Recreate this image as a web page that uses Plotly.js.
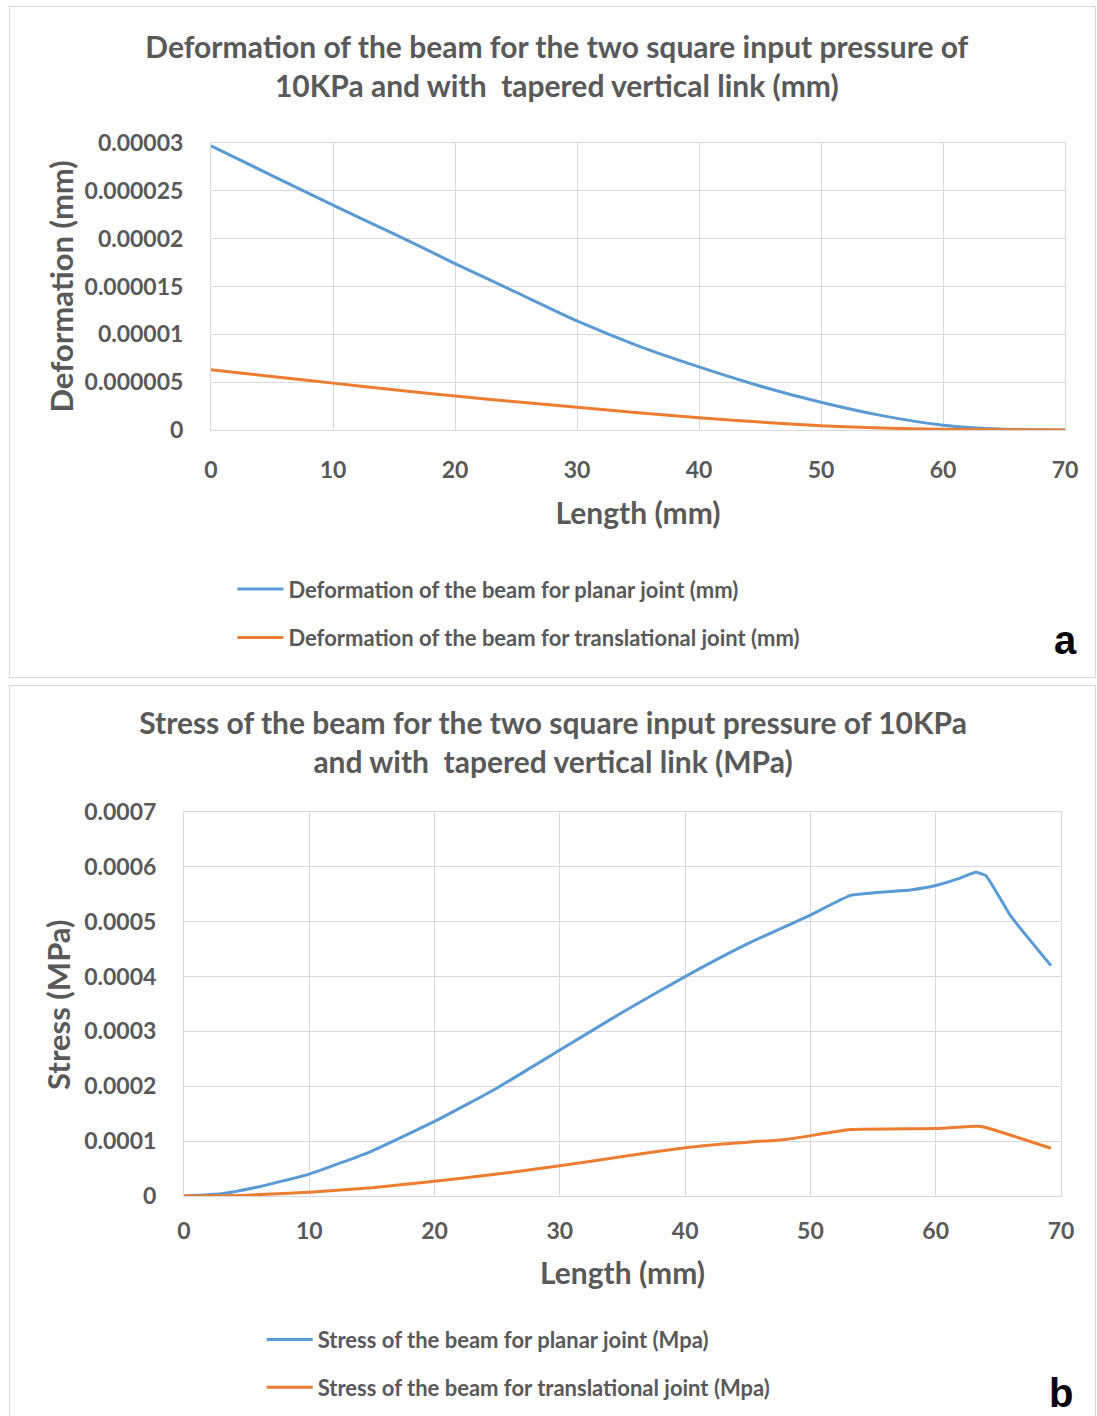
<!DOCTYPE html>
<html>
<head>
<meta charset="utf-8">
<script src="https://cdn.plot.ly/plotly-3.0.1.min.js"></script>
<style>
  html, body { margin: 0; padding: 0; background: #ffffff; width: 1097px; height: 1416px; overflow: hidden; }
  .panel { position: absolute; outline: 1px solid #d9d9d9; background: #fff; }
  #chartA { left: 10px; top: 7px; width: 1085px; height: 670px; }
  #chartB { left: 10px; top: 686px; width: 1085px; height: 740px; }
</style>
</head>
<body>
<div id="chartA" class="panel"></div>
<div id="chartB" class="panel"></div>
<script>
// ---------- Panel a: deformation (mm) ----------
const lengthA = [0, 5, 10, 15, 20, 25, 30, 35, 40, 45, 50, 55, 60, 65, 70];
const deformPlanar = [2.97e-5, 2.66e-5, 2.35e-5, 2.05e-5, 1.74e-5, 1.44e-5, 1.14e-5, 0.88e-5, 0.66e-5, 0.46e-5, 0.29e-5, 0.15e-5, 0.05e-5, 0.008e-5, 0];
const deformTrans = [6.3e-6, 5.6e-6, 4.9e-6, 4.2e-6, 3.55e-6, 2.95e-6, 2.37e-6, 1.8e-6, 1.29e-6, 0.83e-6, 0.45e-6, 0.2e-6, 0.07e-6, 0.02e-6, 0];
const yTicksA = [0, 0.000005, 0.00001, 0.000015, 0.00002, 0.000025, 0.00003];
const yTickTextA = ["0", "0.000005", "0.00001", "0.000015", "0.00002", "0.000025", "0.00003"];

// ---------- Panel b: stress (MPa) ----------
const lengthBPlanar = [0, 3, 6, 10, 15, 20, 25, 30, 35, 40, 45, 50, 53.2, 58, 60, 62, 63.2, 64, 66, 69.2];
const stressPlanar = [0, 0.04e-4, 0.17e-4, 0.4e-4, 0.82e-4, 1.36e-4, 1.97e-4, 2.66e-4, 3.35e-4, 4.0e-4, 4.6e-4, 5.12e-4, 5.48e-4, 5.58e-4, 5.66e-4, 5.8e-4, 5.9e-4, 5.84e-4, 5.1e-4, 4.2e-4];
const lengthBTrans = [0, 5, 10, 15, 20, 25, 30, 35, 40, 43, 48, 53.2, 60, 63.2, 64, 69.2];
const stressTrans = [0, 0.015e-4, 0.07e-4, 0.15e-4, 0.27e-4, 0.4e-4, 0.55e-4, 0.72e-4, 0.88e-4, 0.95e-4, 1.03e-4, 1.21e-4, 1.23e-4, 1.27e-4, 1.25e-4, 0.87e-4];
const yTicksB = [0, 0.0001, 0.0002, 0.0003, 0.0004, 0.0005, 0.0006, 0.0007];
const yTickTextB = ["0", "0.0001", "0.0002", "0.0003", "0.0004", "0.0005", "0.0006", "0.0007"];

const xTicks = [0, 10, 20, 30, 40, 50, 60, 70];

const BLUE = "#5B9BD5";
const ORANGE = "#ED7D31";
const TXT = "#595959";
const GRID = "#d9d9d9";
const FONT = "Lato, 'Open Sans', sans-serif";

function axisX(ticklen, standoff) {
  return {
    range: [0, 70], tickvals: xTicks, ticktext: xTicks.map(String),
    showgrid: true, gridcolor: GRID, gridwidth: 1,
    zeroline: false, showline: true, linecolor: GRID, mirror: true,
    ticks: "outside", ticklen: ticklen, tickcolor: "rgba(0,0,0,0)",
    tickfont: { family: FONT, size: 23, color: TXT, weight: "bold" },
    title: { text: "Length (mm)", font: { family: FONT, size: 30, color: TXT, weight: "bold" }, standoff: standoff },
    automargin: true, fixedrange: true
  };
}
function axisY(range, vals, text) {
  return {
    range: range, tickvals: vals, ticktext: text,
    showgrid: true, gridcolor: GRID, gridwidth: 1,
    zeroline: false, showline: true, linecolor: GRID, mirror: true,
    ticks: "outside", ticklen: 22, tickcolor: "rgba(0,0,0,0)",
    tickfont: { family: FONT, size: 23, color: TXT, weight: "bold" },
    automargin: true, fixedrange: true
  };
}
function yTitle(text, x) {
  return { text: text, xref: "paper", yref: "paper", x: x, y: 0.5, xanchor: "center", yanchor: "middle",
    textangle: -90, showarrow: false, font: { family: FONT, size: 31, color: TXT, weight: "bold" } };
}

const tracesA = [
  { x: lengthA, y: deformPlanar, type: "scatter", mode: "lines", name: "Deformation of the beam for planar joint (mm)",
    line: { color: BLUE, width: 3, shape: "spline", smoothing: 0.6 }, legendgroup: "g1" },
  { x: lengthA, y: deformTrans, type: "scatter", mode: "lines", name: "Deformation of the beam for translational joint (mm)",
    line: { color: ORANGE, width: 3, shape: "spline", smoothing: 0.6 }, legendgroup: "g2" }
];
const layoutA = {
  width: 1085, height: 670,
  margin: { l: 201, r: 30, t: 136, b: 247, autoexpand: false },
  paper_bgcolor: "#ffffff", plot_bgcolor: "#ffffff",
  font: { family: FONT, color: TXT },
  title: {
    text: "Deformation of the beam for the two square input pressure of<br>10KPa and with  tapered vertical link (mm)",
    font: { family: FONT, size: 30, color: TXT, weight: "bold" },
    xref: "container", x: 0.504, xanchor: "center",
    yref: "container", y: 0.9237, yanchor: "middle"
  },
  xaxis: axisX(19, 21),
  yaxis: axisY([0, 0.00003], yTicksA, yTickTextA),
  showlegend: true,
  legend: {
    xref: "container", yref: "container", x: 0.205, xanchor: "left", y: 0.1625, yanchor: "top",
    orientation: "v", itemwidth: 46, tracegroupgap: 17,
    font: { family: FONT, size: 22, color: TXT, weight: "bold" },
    bgcolor: "rgba(0,0,0,0)"
  },
  annotations: [
    yTitle("Deformation (mm)", -0.1768),
    { text: "a", xref: "paper", yref: "paper", x: 1.0, y: -0.73, xanchor: "center", yanchor: "middle", showarrow: false,
      font: { family: "'Liberation Sans', Arial, sans-serif", size: 40, color: "#000000", weight: "bold" } }
  ]
};

const tracesB = [
  { x: lengthBPlanar, y: stressPlanar, type: "scatter", mode: "lines", name: "Stress of the beam for planar joint (Mpa)",
    line: { color: BLUE, width: 3, shape: "spline", smoothing: 0.4 }, legendgroup: "g1" },
  { x: lengthBTrans, y: stressTrans, type: "scatter", mode: "lines", name: "Stress of the beam for translational joint (Mpa)",
    line: { color: ORANGE, width: 3, shape: "spline", smoothing: 0.4 }, legendgroup: "g2" }
];
const layoutB = {
  width: 1085, height: 740,
  margin: { l: 174, r: 34, t: 126, b: 230, autoexpand: false },
  paper_bgcolor: "#ffffff", plot_bgcolor: "#ffffff",
  font: { family: FONT, color: TXT },
  title: {
    text: "Stress of the beam for the two square input pressure of 10KPa<br>and with  tapered vertical link (MPa)",
    font: { family: FONT, size: 30, color: TXT, weight: "bold" },
    xref: "container", x: 0.5005, xanchor: "center",
    yref: "container", y: 0.9351, yanchor: "middle"
  },
  xaxis: axisX(14, 20),
  yaxis: axisY([0, 0.0007], yTicksB, yTickTextB),
  showlegend: true,
  legend: {
    xref: "container", yref: "container", x: 0.232, xanchor: "left", y: 0.1449, yanchor: "top",
    orientation: "v", itemwidth: 46, tracegroupgap: 16,
    font: { family: FONT, size: 22, color: TXT, weight: "bold" },
    bgcolor: "rgba(0,0,0,0)"
  },
  annotations: [
    yTitle("Stress (MPa)", -0.1437),
    { text: "b", xref: "paper", yref: "paper", x: 1.0, y: -0.513, xanchor: "center", yanchor: "middle", showarrow: false,
      font: { family: "'Liberation Sans', Arial, sans-serif", size: 40, color: "#000000", weight: "bold" } }
  ]
};

const cfg = { staticPlot: true, displayModeBar: false };
Plotly.newPlot("chartA", tracesA, layoutA, cfg);
Plotly.newPlot("chartB", tracesB, layoutB, cfg);
</script>
</body>
</html>
